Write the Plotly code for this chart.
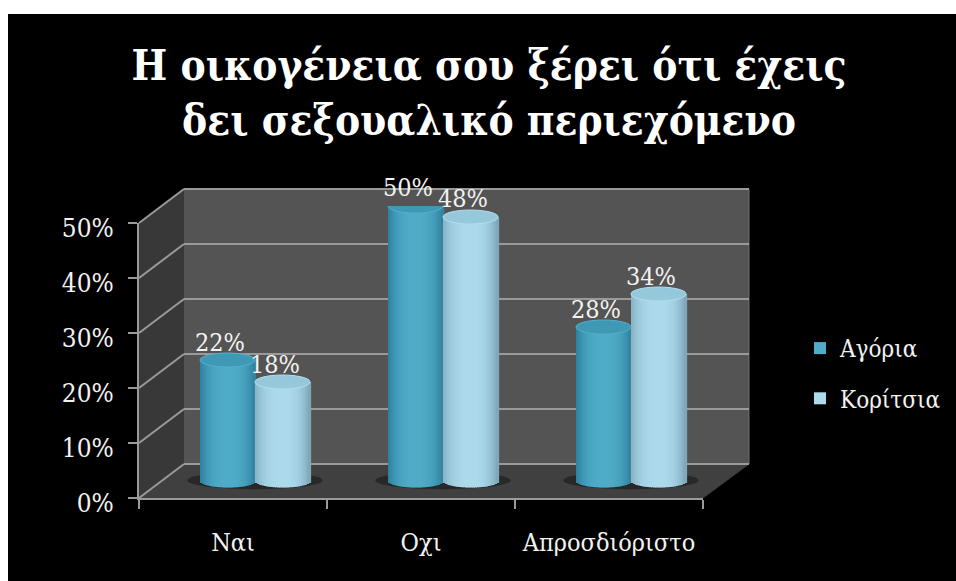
import math
import plotly.graph_objects as go

categories = ["Ναι", "Οχι", "Απροσδιόριστο"]
agoria = [22, 50, 28]
koritsia = [18, 48, 34]
y_ticks = [0, 10, 20, 30, 40, 50]
y_tick_labels = ["0%", "10%", "20%", "30%", "40%", "50%"]
title_text = "Η οικογένεια σου ξέρει ότι έχεις<br>δει σεξουαλικό περιεχόμενο"

W, H = 956, 581
FONT = "DejaVu Serif Condensed"
TXT = "#f2f2f2"
GRID = "#9a9a9a"
# plane geometry in pixels
FX0, FX1, FY0, FY50 = 139, 703, 498, 223      # front plane
BX0, BX1, BY0, BY50 = 184, 749, 464, 189      # back wall
MID_Y0, MID_Y50 = 481, 206                    # plane through the cylinders
MID_BELOW = 5                                 # room below zero for the rounded cylinder bottoms
BACK_PAD = 0.5                                # keeps the end gridlines on the back wall

px = lambda v: v / W
py = lambda v: 1 - v / H
def poly(points):
    return "M " + " L ".join(f"{px(a):.5f} {py(b):.5f}" for a, b in points) + " Z"

CAT_W = (FX1 - FX0) / len(categories)
BAR_W = 55 / CAT_W
SHIFT = 22 / CAT_W
UNIT = (MID_Y0 - MID_Y50) / 50
CAP = 7 / UNIT
SAG = 6.5 / UNIT
N = 25

def mix(a, b, f):
    return "rgb(" + ",".join(str(round(a[i] + (b[i] - a[i]) * f)) for i in range(3)) + ")"

series = [
    dict(name="Αγόρια", values=agoria, start=SHIFT - BAR_W,
         left=(44, 128, 158), mid=(78, 172, 200), right=(48, 128, 156),
         cap=(62, 152, 182), rim=(84, 176, 202)),
    dict(name="Κορίτσια", values=koritsia, start=SHIFT,
         left=(134, 178, 196), mid=(172, 218, 236), right=(122, 164, 182),
         cap=(150, 200, 220), rim=(180, 222, 236)),
]

fig = go.Figure()

# back plane subplot (gridlines)
fig.add_trace(go.Scatter(x=[0, 1], y=y_ticks[:2], xaxis="x", yaxis="y", mode="lines",
                         line=dict(width=0), showlegend=False, hoverinfo="skip"))

shapes = [
    dict(type="rect", xref="paper", yref="paper", layer="below", x0=px(8), x1=1, y0=0, y1=py(14),
         fillcolor="#000000", line_width=0),
    dict(type="path", xref="paper", yref="paper", layer="below",
         path=poly([(FX0, FY50), (BX0, BY50), (BX0, BY0), (FX0, FY0)]), fillcolor="#383838", line_width=0),
    dict(type="rect", xref="paper", yref="paper", layer="below", x0=px(BX0), x1=px(BX1), y0=py(BY0), y1=py(BY50),
         fillcolor="#545454", line_width=0),
    dict(type="path", xref="paper", yref="paper", layer="below",
         path=poly([(FX0, FY0), (BX0, BY0), (BX1, BY0), (FX1, FY0)]), fillcolor="#404040", line_width=0),
]
# diagonal lines on the side wall and floor edge
for t in y_ticks:
    f = t / 50
    yf = FY0 + (FY50 - FY0) * f
    yb = BY0 + (BY50 - BY0) * f
    shapes.append(dict(type="line", xref="paper", yref="paper", layer="below",
                       x0=px(FX0), y0=py(yf), x1=px(BX0), y1=py(yb),
                       line=dict(color=GRID, width=2)))
shapes.append(dict(type="line", xref="paper", yref="paper", layer="below",
                   x0=px(FX1), y0=py(FY0), x1=px(BX1), y1=py(BY0), line=dict(color="#3c3c3c", width=1)))
shapes.append(dict(type="line", xref="paper", yref="paper", layer="below",
                   x0=px(BX1), y0=py(BY50), x1=px(BX1), y1=py(BY0), line=dict(color="#6e6e6e", width=1)))

# floor shadows under each pair of cylinders
for i in range(len(categories)):
    shapes.append(dict(type="circle", xref="x2", yref="y3", layer="below",
                       x0=i + SHIFT - 0.36, x1=i + SHIFT + 0.36, y0=-1.5, y1=1.7,
                       fillcolor="#282828", line_width=0))

annotations = []
for s in series:
    for k in range(N):
        t = -1 + 2 * (k + 0.5) / N
        f = (1 - abs(t) ** 2.6)
        color = mix(s["left"] if t < 0 else s["right"], s["mid"], f)
        sag = SAG * math.sqrt(max(0, 1 - t * t))
        offs = s["start"] + BAR_W * k / N
        w = BAR_W / N + 0.006
        fig.add_trace(go.Bar(x=categories, y=s["values"], xaxis="x2", yaxis="y3",
                             offset=offs, width=w, marker=dict(color=color, line_width=0),
                             name=s["name"], legendgroup=s["name"],
                             showlegend=(k == N // 2), hoverinfo="y"))
        fig.add_trace(go.Bar(x=categories, y=[-sag] * len(categories), xaxis="x2", yaxis="y3",
                             offset=offs, width=w, marker=dict(color=color, line_width=0),
                             legendgroup=s["name"], showlegend=False, hoverinfo="skip"))
    for i, v in enumerate(s["values"]):
        shapes.append(dict(type="circle", xref="x2", yref="y3", layer="above",
                           x0=i + s["start"], x1=i + s["start"] + BAR_W, y0=v - CAP, y1=v + CAP,
                           fillcolor=mix(s["cap"], s["cap"], 0),
                           line=dict(color=mix(s["rim"], s["rim"], 0), width=1)))
        annotations.append(dict(x=i + s["start"] + BAR_W / 2, y=v, xref="x2", yref="y3",
                                text=f"{v}%", showarrow=False, xshift=-8, yshift=18,
                                font=dict(family=FONT, size=25, color=TXT)))

fig.update_layout(
    width=W, height=H, autosize=False,
    margin=dict(l=0, r=0, t=0, b=0, autoexpand=False),
    paper_bgcolor="#ffffff", plot_bgcolor="rgba(0,0,0,0)",
    barmode="overlay",
    font=dict(family=FONT, color=TXT),
    title=dict(text=title_text, x=489 / W, xanchor="center", y=py(80), yanchor="middle",
               font=dict(family=FONT, size=42, color="#ffffff", weight="bold")),
    shapes=shapes, annotations=annotations,
    legend=dict(x=800 / W, y=py(326), xanchor="left", yanchor="top", bgcolor="rgba(0,0,0,0)",
                font=dict(family=FONT, size=24, color=TXT), tracegroupgap=16, traceorder="grouped",
                itemwidth=30),
    # back wall
    xaxis=dict(domain=[px(BX0), px(BX1)], anchor="y", range=[0, 1], visible=False),
    yaxis=dict(domain=[py(BY0 + BACK_PAD * UNIT), py(BY50 - BACK_PAD * UNIT)], anchor="x",
               range=[-BACK_PAD, 50 + BACK_PAD], tickvals=y_ticks, showticklabels=False,
               showgrid=True, gridcolor=GRID, gridwidth=2, zeroline=False, showline=False, ticks=""),
    # front plane with the axes
    xaxis2=dict(domain=[px(FX0), px(FX1)], anchor="y2", type="category", categoryorder="array",
                categoryarray=categories, range=[-0.5, 2.5], tickson="boundaries", ticks="outside",
                ticklen=9, tickwidth=2, tickcolor=GRID, showline=True, linecolor=GRID, linewidth=2,
                showgrid=False, ticklabelstandoff=21, tickfont=dict(family=FONT, size=25, color=TXT)),
    yaxis2=dict(domain=[py(FY0), py(FY50)], anchor="x2", range=[0, 50], tickvals=y_ticks,
                ticktext=y_tick_labels, ticks="outside", ticklen=9, tickwidth=2, tickcolor=GRID,
                showline=True, linecolor=GRID, linewidth=2, showgrid=False, zeroline=False,
                ticklabelstandoff=9, ticklabelshift=5, tickfont=dict(family=FONT, size=26, color=TXT)),
    # plane through the cylinders
    yaxis3=dict(domain=[py(MID_Y0 + MID_BELOW * UNIT), py(MID_Y50)], anchor="x2",
                range=[-MID_BELOW, 50], visible=False),
)
# make the front-plane axes exist as a subplot of their own
fig.add_trace(go.Scatter(x=categories, y=[0, 0, 0], xaxis="x2", yaxis="y2", mode="lines",
                         line=dict(width=0), showlegend=False, hoverinfo="skip"))

fig.write_html("out.html", config=dict(displayModeBar=False),
               post_script="document.body.style.margin='0';document.body.style.overflow='hidden';")
